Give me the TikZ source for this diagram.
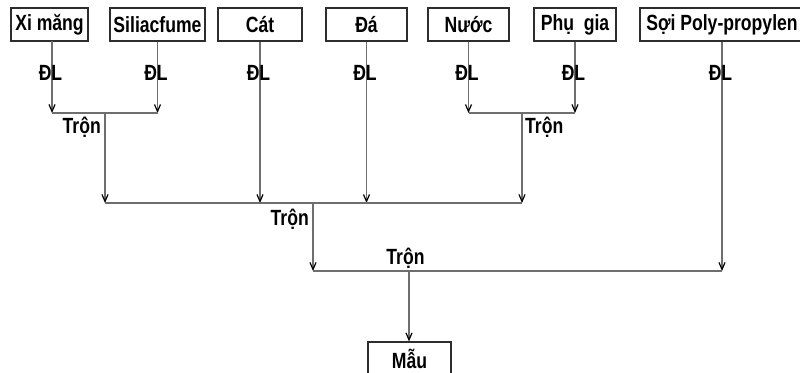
\documentclass[tikz,border=0pt]{standalone}
\usepackage{fontspec}
\setmainfont{Liberation Sans}[FakeStretch=0.8]
\usetikzlibrary{arrows.meta}
\definecolor{linec}{RGB}{110,110,110}
\definecolor{boxc}{RGB}{45,45,45}
\tikzset{
  box/.style={draw=boxc, line width=1.2pt, minimum height=33pt, inner sep=0pt, font=\fontsize{22}{23}\selectfont\bfseries},
  lbl/.style={inner sep=0pt, font=\fontsize{22}{23}\selectfont\bfseries},
  arr/.style={draw=linec, line width=1.2pt, -{Straight Barb[length=7pt,width=6pt,line width=1.2pt,color=black]}},
  ln/.style={draw=linec, line width=1.2pt}
}
\begin{document}
\begin{tikzpicture}[x=1pt,y=-1pt]
\useasboundingbox (0,0) rectangle (800,372);
% boxes
\node[box, minimum width=77pt] (xm) at (49.5,24.5) {Xi măng};
\node[box, minimum width=95pt] (sil) at (157.5,24.5) {Siliacfume};
\node[box, minimum width=84pt] (cat) at (260,24.5) {Cát};
\node[box, minimum width=81pt] (da) at (366.5,24.5) {Đá};
\node[box, minimum width=81pt] (nuoc) at (468.5,24.5) {Nước};
\node[box, minimum width=82pt] (phu) at (575,24.5) {Phụ\ \ gia};
\node[box, minimum width=164pt] (soi) at (722,24.5) {Sợi Poly-propylen};
\node[box, minimum width=83pt] (mau) at (409.5,358.5) {Mẫu};
% junctions
\coordinate (j1) at (105,113);
\coordinate (j2) at (522,113);
\coordinate (j3) at (313,203);
\coordinate (j4) at (409,271);
\coordinate (xmb) at (52,41);
% first level
\draw[arr] (xmb) -- (xmb |- j1) node[lbl, pos=0.44, xshift=-1.5pt] {ĐL};
\draw[arr] (sil.south) -- (sil.south |- j1) node[lbl, pos=0.44, xshift=-1.5pt] {ĐL};
\draw[ln] (xmb |- j1) -- (sil.south |- j1);
\draw[arr] (nuoc.south) -- (nuoc.south |- j2) node[lbl, pos=0.44, xshift=-1.5pt] {ĐL};
\draw[arr] (phu.south) -- (phu.south |- j2) node[lbl, pos=0.44, xshift=-1.5pt] {ĐL};
\draw[ln] (nuoc.south |- j2) -- (phu.south |- j2);
% second level
\draw[arr] (j1) -- (j1 |- j3);
\draw[arr] (j2) -- (j2 |- j3);
\draw[arr] (cat.south) -- (cat.south |- j3) node[lbl, pos=0.197, xshift=-1.5pt] {ĐL};
\draw[arr] (da.south) -- (da.south |- j3) node[lbl, pos=0.197, xshift=-1.5pt] {ĐL};
\draw[ln] (j1 |- j3) -- (j2 |- j3);
\node[lbl, anchor=east] (t1) at (101,127.5) {Trộn};
\node[lbl, anchor=west] (t2) at (525,127.5) {Trộn};
% third level
\draw[arr] (j3) -- (j3 |- j4);
\draw[arr] (soi.south) -- (soi.south |- j4) node[lbl, pos=0.138, xshift=-1.5pt] {ĐL};
\draw[ln] (j3 |- j4) -- (soi.south |- j4);
\node[lbl, anchor=east] (t3) at (309,219) {Trộn};
% final
\draw[arr] (j4) -- (mau.north -| j4);
\node[lbl] (t4) at (405.5,258) {Trộn};
\end{tikzpicture}
\end{document}
